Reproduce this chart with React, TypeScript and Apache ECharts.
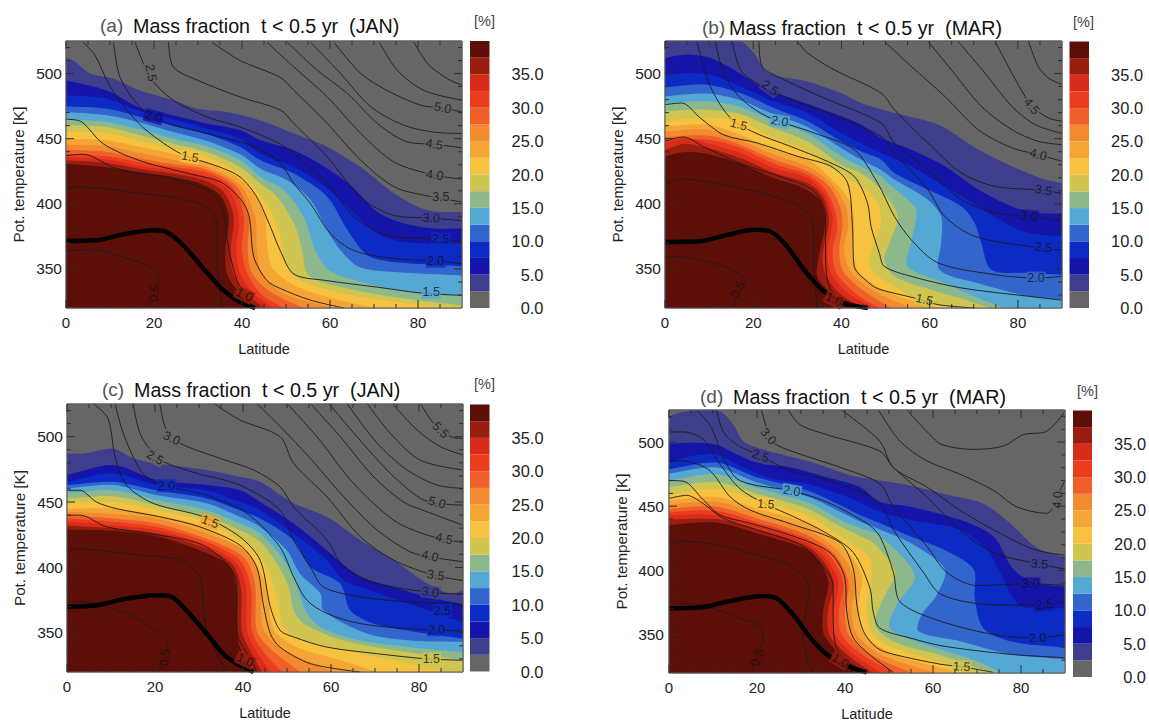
import React, { useEffect, useRef } from "react";
import * as echarts from "echarts";

// ---- colour scale ----
const cbLevels = [0, 2.5, 5, 7.5, 10, 12.5, 15, 17.5, 20, 22.5, 25, 27.5, 30, 32.5, 35, 37.5];
const cbColors = ["#666666", "#3e3e8c", "#1414a8", "#0c2ac4", "#3366cc", "#55a8d4", "#8cb88c", "#cfc550", "#f7c23f", "#f5a535", "#f28a30", "#ee5f2a", "#ec3c20", "#d92b1a", "#9a1e10", "#5c0e08"];
const cbTicks = [0, 5, 10, 15, 20, 25, 30, 35];
const latTicks = [0, 20, 40, 60, 80];
const latMinor = [5, 10, 15, 25, 30, 35, 45, 50, 55, 65, 70, 75, 85];
const thetaTicks = [350, 400, 450, 500];
const thetaMinor = [330, 340, 360, 370, 380, 390, 410, 420, 430, 440, 460, 470, 480, 490, 510, 520];

// ---- panel (a): boundaries of filled levels, [lat, theta, ...] ----
const a25 = [0,512, 1.7,510, 5.5,500, 10.8,496, 16.8,487, 24.4,479.5, 29.8,473, 36.6,470.5, 44.2,464, 51.8,454, 59.4,443.7, 67,428, 74.6,408, 82.2,395, 90,393.5];
const a50 = [0,494.9, 9.3,487, 16.9,473.6, 24.4,468, 32,461.6, 39.6,456.5, 44.2,448.8, 51.8,441.1, 59.4,427, 64.7,414.2, 70.8,393.7, 76.9,384.8, 83.7,381, 90,381];
const a75 = [0,483.3, 9.3,480.8, 16.9,471, 24.4,464.9, 32,457.7, 39.6,450, 44.2,438.5, 51.8,428.3, 59.4,411.7, 65.5,392.5, 70.8,377, 76.8,370.7, 90,369.4];
const a100 = [0,474.9, 9.3,473, 16.9,466.7, 24.4,459.8, 32,453.4, 39.6,443.7, 44.2,433.4, 51.8,423.2, 59.4,405.3, 64,379.7, 68.5,360.5, 74.6,355.3, 90,352];
const a125 = [0,470.5, 9.3,468, 16.9,462.3, 24.4,455.2, 32,448.3, 39.6,438, 44.2,427, 50.3,418, 55.6,402.7, 59.4,379.7, 62.4,364.3, 66.6,351.5, 74.6,347.6, 90,345];
const a150 = [0,465.2, 9.3,462.9, 16.9,457, 24.4,450, 32,444.2, 39.6,433.4, 44.2,420.6, 49.5,410.4, 54,389.9, 56.7,364.3, 59.8,348.9, 67,340, 78.4,332.3, 90,329.7];
const a175 = [0,460.3, 9.3,459, 16.9,452.6, 24.4,446.2, 32,439.8, 39.6,428.3, 44.2,415.5, 48,405.3, 51.8,384.8, 53.7,364.3, 54.8,346.4, 59.4,338.7, 74.6,328.4, 90,322];
const a200 = [0,455.2, 9.3,454.4, 16.9,448.3, 24.4,442.4, 32,436, 39.6,423.2, 44.2,406.5, 46.5,395, 48.8,374.5, 49.9,354, 53.3,341.2, 63.2,331, 78.4,323.3, 90,319.5];
const a225 = [0,450, 9.3,448.8, 16.9,443.7, 24.4,438.5, 32,431.4, 40.4,416.8, 45,392.5, 45.7,369.4, 46.8,351.5, 51.8,337.4, 59.4,328.4, 70,320];
const a250 = [0,445.5, 9.3,444.2, 16.9,439, 24.4,433.9, 32,428.3, 39.6,414.2, 43,390, 43.4,364.3, 44.6,346.4, 49.5,331, 60.9,320];
const a275 = [0,441.6, 9.3,439.8, 16.9,434.7, 24.4,430.3, 32,426.2, 38.9,413, 41.5,390, 41.3,364.3, 42.3,346.4, 46.5,332.3, 54,320];
const a300 = [0,438.5, 9.3,436.5, 16.9,432, 24.4,428.3, 32,424, 38.1,411.7, 40.4,390, 40,364.3, 41.2,346.4, 44.2,331, 49.5,320];
const a325 = [0,436, 9.3,434, 16.9,428.8, 24.4,425.7, 32,420.6, 37,410.4, 39.3,390, 38.7,364.3, 39.6,346.4, 42.7,331, 47.2,320];
const a350 = [0,433.4, 9.3,431.4, 16.9,426.8, 24.4,423.2, 31.3,418, 35.8,409, 38.1,390, 37.4,364.3, 38,346.4, 41.2,331, 45,320];
const a375 = [0,431, 9.3,428, 16.9,424, 24.4,420.6, 30.5,415.5, 35,406.5, 37,390, 36.2,364, 36.6,346, 39.6,331, 43,320];
const aBands = [a25, a50, a75, a100, a125, a150, a175, a200, a225, a250, a275, a300, a325, a350, a375];

// panel (a): contour lines
const aC05 = [0,364, 5.5,365, 13,359, 18.4,352.5, 21,343.5, 20.6,333, 18,320];
const aC075 = [0,410, 2,413, 17,408, 30.5,400, 34.3,385, 34.3,357, 35,331, 35.7,320];
const aC10 = [0,437, 3.9,438, 11.5,427, 24.4,419, 32.8,409, 35.7,395, 36.8,369, 38.9,341, 42.7,320];
const aC125 = [0,465, 3.5,463, 8.5,446, 16.9,433, 28.2,423, 35.8,415.5, 41.2,395, 42.7,359, 45.7,341, 48.7,335, 55.6,326, 63.2,320];
const aC15 = [3.9,524, 6.6,514, 10,490, 14.6,469, 18.4,456, 26,438.6, 34.3,429, 39.6,420.6, 43.4,405, 46.5,382, 48.7,364, 51.8,346, 59.4,341, 70.8,336, 80.6,331.5, 90,329.7];
const aC20 = [10.8,524, 12.3,497, 16.9,474, 22.2,463, 32,454, 42.7,444, 48.7,431, 51.8,415.5, 55.6,400, 60.1,377, 65.5,364, 74.6,358, 84,356, 90,354];
const aC25 = [15.7,524, 17.6,507.7, 19.5,495, 24.4,479.5, 32,466.7, 39.6,459, 48.7,446, 51.8,438.5, 59.4,415.5, 65.5,390, 73,376, 83.7,373, 90,370.7];
const aC30 = [23.3,524, 24.4,505, 29.8,495, 39.6,482, 48.7,472, 51.8,461.6, 59.4,436, 67,405, 74.6,391, 83,389, 90,387];
const aC35 = [33.2,524, 39.6,510, 48.7,497, 51.8,487, 59.4,461.6, 67,433.4, 74.6,413, 82.2,406, 90,401.4];
const aC40 = [45.7,524, 51.8,505, 59.4,482, 67,454, 74.6,432, 83.7,422, 90,419];
const aC45 = [50.3,524, 57.1,502.5, 64,484.6, 70.8,461.6, 77.6,447.5, 83.7,445.7, 90,443];
const aC47 = [55.6,524, 62.4,500, 69.3,474.4, 76.8,460.3, 83.7,455, 90,454];
const aC50 = [60.9,524, 67,500, 73,487, 80.6,475.7, 85.6,473.6, 90,470.5];
const aC52 = [71.2,524, 75.3,502.5, 81.4,487, 90,479.5];
const aC55 = [79.1,524, 82.2,507.6, 86.7,496, 90,491];
const aContours = [aC05, aC075, aC10, aC125, aC15, aC20, aC25, aC30, aC35, aC40, aC45, aC47, aC50, aC52, aC55];
const aThick = [0,371.5, 7,372, 13,376.6, 20,379.6, 23,378, 26.7,368, 31.3,350, 35.8,333.5, 39.6,324.6, 43,320];
// [lat, theta, text, rotation, colour band underneath]
const aLabels = [[19.3,500.5,"2.5",-80,0],[19.9,467,"2.0",-15,2],[28.2,436,"1.5",-10,8],[40.5,330,"1.0",-25,14],[20,331.5,"0.5",85,15],[85.6,473.6,"5.0",-10,0],[83.7,445.7,"4.5",-10,0],[83.8,422,"4.0",-8,0],[85.2,405,"3.5",0,0],[83,389,"3.0",-3,1],[85.2,373,"2.5",-3,3],[84,356,"2.0",0,3],[83,332,"1.5",0,5]];

// ---- panel (b) ----
const b25 = [17.1,526, 20.1,516, 23.5,500.5, 32.3,494, 39.9,485, 44.4,477.4, 52,469.8, 61.9,460.8, 71,441.6, 78.6,428.8, 86.2,418.6, 90,416];
const b50 = [0,512, 4.9,514.6, 10.3,512, 15.6,503, 22.4,489, 28.5,481.3, 36,472.3, 43.7,462, 49,450.6, 55.8,441.6, 63.4,428.8, 71,411, 78.6,398, 83.9,393, 90,392.5];
const b75 = [0,499, 4.9,500.5, 10.3,499, 17.1,490, 24.7,478.7, 32.3,469.8, 39.9,454.4, 44.4,446.7, 49,439, 55.8,428.8, 63.4,413.4, 71,398, 78.6,382.7, 82.4,377.6, 90,375];
const b100 = [0,489.7, 9.5,491.5, 17.1,485, 24.7,473.6, 32.3,463.4, 39.9,448, 44.4,440.3, 49,433.9, 52,423.7, 59.6,410.9, 67.2,398, 70.2,385.3, 71.7,370, 74,349.4, 82.4,346.9, 90,345.6];
const b125 = [0,482.6, 9.5,484.6, 17.1,479.5, 24.7,468.5, 32.3,459, 39.9,442.9, 44.4,434, 49,426, 52,418.6, 59.6,403.2, 62.6,390.4, 62.6,370, 62.2,349.4, 71,339, 82.4,329, 90,326.4];
const b150 = [0,477.4, 9.5,478.7, 17.1,474.4, 24.7,463.4, 32.3,453.9, 39.9,436.5, 44.4,428.8, 49,421, 50.5,416, 56.6,398, 57,390.4, 55.8,370, 55,352, 63.4,339, 71,327.7, 77,320];
const b175 = [0,471, 9.5,472.3, 17.1,469, 24.7,458, 32.3,448, 39.9,430, 44.4,423.7, 49,410.9, 52.8,390.4, 51.2,372.5, 49.7,357, 52,344.3, 60.3,334, 68,326.4, 73.6,320];
const b200 = [0,463.4, 9.5,466, 17.1,463.4, 24.7,450.6, 32.3,440.3, 39.9,422.4, 44.4,413.4, 48.2,400.6, 49,385.3, 47.4,370, 46.3,354.6, 47.4,346.9, 52,336.6, 57.3,326.4, 65.3,320];
const b225 = [0,459.5, 9.5,460.8, 17.1,453, 24.7,441.6, 32.3,434, 38.3,417.3, 42.1,400.6, 42.9,382.7, 42.5,364.8, 43.7,349.4, 47.5,337.9, 52,330, 61,321, 62.6,320];
const b250 = [0,455.7, 9.5,457, 17.1,448.8, 24.7,437.8, 32.3,428.8, 37.6,416, 41,398, 41.5,382.7, 40.6,364.8, 41.8,349.4, 45.2,337.9, 49.7,329, 55.8,320];
const b275 = [0,451.3, 9.5,452.4, 17.1,445.4, 24.7,434, 32.3,425, 37.2,413.4, 39.9,395.5, 40.2,382.7, 39.5,364.8, 40.2,349.4, 43.7,336.6, 47.5,327.7, 51.3,320];
const b300 = [0,449.3, 9.5,449.3, 17.1,442.9, 24.7,430.8, 32.3,422.4, 36.4,410.9, 38.7,393, 39,380, 38,364.8, 38.7,348, 41.8,335.4, 45.2,326.4, 49,320];
const b325 = [0,446, 4.2,450.6, 9.5,446.7, 17.1,439, 24.7,427.5, 32.3,419.8, 36,408.3, 38,390.4, 37.6,377.6, 36.8,362.2, 37.6,346.9, 40.6,334, 43.7,326.4, 47.5,320];
const b350 = [0,441.6, 4.2,446, 9.5,442.9, 17.1,435.2, 24.7,423.7, 32.3,416, 35.7,405.8, 37.2,387.8, 36.4,372.5, 35.7,359.7, 36.4,345.6, 39.1,332.8, 42.1,325, 46,320];
const b375 = [0,436.5, 4.2,439.6, 9.5,438.5, 17.1,430.8, 24.7,419.8, 31.5,412, 35.3,402, 36.3,385.3, 34.9,359.7, 34.5,344.3, 37.6,331.5, 42.9,320.5];
const bBands = [b25, b50, b75, b100, b125, b150, b175, b200, b225, b250, b275, b300, b325, b350, b375];

const bC05 = [0,359.7, 5.7,358.4, 12.5,353, 17.1,345.6, 18.2,340.5, 16.7,334, 15.6,320];
const bC075 = [0,414.7, 4.2,419, 13.3,414.7, 27,403.2, 32.3,393, 33.8,375, 33.8,354.6, 34.5,320];
const bC10 = [0,448, 4.2,451.3, 8.7,444, 17.1,431, 27,419.8, 33.8,409.6, 36.4,390.4, 36.4,364.8, 37.2,336.6, 41.4,320];
const bC125 = [0,476.2, 3.8,477.4, 8,465.9, 13.3,453, 20.9,446.7, 30,436.5, 37.6,428.8, 41.4,416, 42.5,382.7, 42.9,352, 46.7,337.9, 49,334, 56.5,327.7, 61.9,322.6, 70.2,320];
const bC15 = [7.2,524.8, 10.3,490, 14.8,466, 20.1,455, 28.5,444, 36.8,432.6, 42.9,421, 45.9,400.6, 46.7,382.7, 48.6,362, 49.7,352, 55.8,344.3, 67.2,335.4, 82.4,329, 90,326];
const bC20 = [11.4,524.8, 13.3,500.5, 17.1,481.3, 23.2,467, 33.8,454.4, 42.9,441.6, 48.2,416, 52,390.4, 55.8,372.5, 61.9,354.6, 74.8,345.6, 84.3,343, 90,344.3];
const bC25 = [15.2,524.8, 17.1,503, 20.1,494, 28.5,480, 36.8,469.8, 49,451.8, 52,439, 59.6,410.9, 63.4,390.4, 70.2,375, 83.9,366.6, 90,364.3];
const bC30 = [21.3,524.8, 22,505.6, 26.2,496.6, 36,481.3, 49,462, 52,446.7, 59.6,426, 67.2,403.2, 74.8,393, 82.6,390.4, 90,386.6];
const bC35 = [30,524.8, 32.3,515.8, 38.3,503, 49,485, 52,472.3, 59.6,446.7, 67.2,423.7, 74.8,413.4, 85.8,410.4, 90,407.8];
const bC40 = [49.7,524.8, 55.8,505.6, 63.4,482.6, 71,457, 78.6,443, 84.6,437.8, 90,432.6];
const bC42 = [59.6,524.8, 64.9,503, 71.7,474.9, 78.6,457, 84.6,448, 90,445.4];
const bC44 = [66.4,524.8, 72.5,500.5, 78.6,474.9, 83.9,460.8, 90,454];
const bC45 = [74.8,524.8, 78.6,500.5, 81.6,482.6, 83.1,474.9, 86.9,465.9, 90,463.4];
const bC48 = [82.4,524.8, 84.6,505.6, 86.9,496.6, 90,491.5];
const bContours = [bC05, bC075, bC10, bC125, bC15, bC20, bC25, bC30, bC35, bC40, bC42, bC44, bC45, bC48];
const bThick = [0,370.7, 7.2,371, 14,376, 20.1,380, 23.2,379.6, 27,370, 31.5,349.4, 36,332.8, 40.6,323.8, 46,320];
const bLabels = [[23.8,489,"2.5",-35,1],[26,463.4,"2.0",-10,5],[16.7,460.8,"1.5",-15,8],[38.3,326.4,"1.0",-25,14],[16.5,334,"0.5",65,15],[83.1,474.9,"4.5",-50,0],[84.6,437.8,"4.0",-15,0],[85.8,410.4,"3.5",-10,1],[82.6,390.4,"3.0",-5,2],[85.8,366.6,"2.5",-5,3],[84.1,343,"2.0",0,4],[58.8,326.4,"1.5",-12,7]];

// ---- panel (c) ----
const c25 = [0,487.2, 3.6,487, 10.5,491, 14.3,484.7, 19.6,479.6, 24.1,478, 31.7,474.5, 39.3,469.3, 43.9,465.5, 51.5,449, 59.1,438.7, 66.7,420.8, 74.3,405.5, 81.9,387.7, 87.2,380, 90,382.5];
const c50 = [0,470.6, 10.5,478.3, 20.3,466.8, 31.7,463, 39.3,459, 43.9,450, 51.5,433.6, 59.1,413, 66.7,392.8, 74.3,385, 81.9,377.4, 90,372];
const c75 = [0,465.5, 10.5,472, 20.3,463, 31.7,459, 39.3,450, 43.9,443.8, 51.5,426, 59.1,405.5, 62.9,390, 66.7,385, 78,372, 90,358];
const c100 = [0,463, 10.5,465.5, 20.3,459, 31.7,452.8, 39.3,443.8, 43.9,437.4, 51.5,420.8, 55.3,400.4, 62.1,387.7, 64.4,367, 69.7,357, 81.9,349.4, 90,345.5];
const c125 = [0,460.4, 10.5,463, 20.3,455.3, 31.7,449, 39.3,438.7, 43.9,431, 50,413, 53,395, 57.6,380, 58.3,367, 68.2,349.4, 78,344, 90,343];
const c150 = [0,457, 10.5,459, 20.3,451.5, 31.7,443.8, 39.3,433.6, 43.9,426, 48.5,409.4, 51.5,392.8, 54.2,367, 57.6,354.5, 66.7,344, 78,339, 90,335];
const c175 = [0,452.8, 10.5,454.5, 20.3,447.6, 31.7,438.7, 39.3,428.5, 43.9,419.6, 47.7,403, 50.4,385, 51.5,367, 53.8,357, 62.9,344, 74.3,336.6, 90,329];
const c200 = [0,449, 10.5,450, 20.3,443.8, 31.7,434.9, 39.3,420.8, 43.9,408, 46.2,392.8, 48.1,372, 49.2,354.5, 53.8,344, 66.7,334, 78,326.4, 86.4,320];
const c225 = [0,445, 10.5,445, 20.3,440, 31.7,429.8, 41.6,408, 45.4,385, 46.2,362, 47.7,349.4, 53,337.9, 62.1,329, 70.5,320];
const c250 = [0,442.5, 10.5,440.8, 20.3,437.4, 31.7,426, 40.9,412, 43.9,390, 44.5,354.5, 48.4,339, 60.6,320];
const c275 = [0,440, 10.5,437.4, 20.3,433.6, 31.7,422, 40.1,408, 42.7,387.7, 43.1,352, 46.2,337.9, 53,320];
const c300 = [0,437.4, 10.5,434.9, 20.3,431, 31.7,419.6, 39.3,405.5, 41.8,385, 42,352, 44.4,336.6, 48.8,320];
const c325 = [0,434.9, 10.5,432.3, 20.3,428.5, 31.7,417, 38.6,403, 40.7,385, 40.9,352, 42.9,336.6, 46.2,320];
const c350 = [0,432.3, 10.5,429.8, 20.3,426, 31.7,414.5, 37.8,401.7, 39.6,382.5, 39.7,352, 41.6,336.6, 44.3,320];
const c375 = [0,429, 10.5,428, 20.3,424, 31.7,411, 37.1,400.4, 38.6,380, 38.6,357, 39.3,339, 42.4,320];
const cBands = [c25, c50, c75, c100, c125, c150, c175, c200, c225, c250, c275, c300, c325, c350, c375];

const cC05 = [0,373.6, 3.6,373.6, 9,369.8, 16.5,359.6, 23,340.4, 22,331.5, 21.1,320];
const cC075 = [0,413, 2.9,414, 16.5,409.4, 25.7,405.5, 30.2,392.8, 31,372, 31.7,352, 36.3,320];
const cC10 = [0,440, 2.9,440, 9,431, 18.8,426, 30.2,418, 36.3,403, 38.6,387.7, 38.6,352, 42.4,326, 43.1,320];
const cC125 = [0,459, 2.9,459, 6.7,450, 11.2,445, 21.1,438.7, 30.2,431, 39.3,417, 43.1,400.4, 44.6,372, 46.2,349.4, 48.4,339, 55.3,326.4, 66.7,320];
const cC15 = [5.9,525.5, 9.3,514, 11,483.5, 13.5,463, 19.6,449, 31,438.7, 39.3,423.4, 43.9,405.5, 46.2,370, 48.4,352, 51.5,346.8, 59.1,339, 70.5,334, 81.9,330, 90,329];
const cC20 = [10.9,525.5, 12.8,502.5, 16.6,474.5, 19.6,465.5, 22.6,462, 31.7,455.3, 40.9,441.3, 48.4,415.7, 51.5,392.8, 54.5,375, 59.1,364.7, 66.7,357, 78,353, 90,351.4];
const cC25 = [15,525.5, 16.6,502.5, 19.6,487, 21.9,480.8, 29.5,472, 39.3,463, 48.4,443.8, 51.5,420.8, 55.3,400.4, 58.3,385, 66.7,377.4, 78,373.5, 85.3,372, 90,370.8];
const cC30 = [21.1,525.5, 22.6,505, 25.7,495, 34.8,483.4, 42.4,474.5, 48.4,461.7, 51.5,446.4, 59.1,420.8, 62.9,400.4, 70.5,387.7, 82.6,381, 90,379.5];
const cC35 = [33.3,525.5, 39.3,512.8, 48.4,500, 51.5,479.6, 59.1,454, 66.7,423.4, 74.3,405.5, 83.4,394, 90,390];
const cC40 = [43.1,525.5, 48.5,507.6, 55.3,483.4, 62.9,454, 70.5,428.5, 78,411.9, 82.6,408, 90,404.3];
const cC45 = [50,525.5, 56.8,500, 65.2,464, 74.3,436, 81.9,424.7, 90,419];
const cC47 = [55.3,525.5, 62.1,500, 69.7,469.3, 76.5,450, 81.9,442.5, 90,432.3];
const cC50 = [59.5,525.5, 65.9,500, 73.5,471.9, 80.3,452.8, 84.1,449, 90,447.6];
const cC51 = [63.6,525.5, 70.5,495, 77.3,474.5, 84.1,463, 90,460.4];
const cC52 = [68.2,525.5, 73.5,502.5, 80.3,482, 90,474.5];
const cC53 = [73.9,525.5, 79.6,505, 84.9,492.3, 90,486];
const cC55 = [80.3,525.5, 83.4,510, 87.2,500, 90,498.7];
const cContours = [cC05, cC075, cC10, cC125, cC15, cC20, cC25, cC30, cC35, cC40, cC45, cC47, cC50, cC51, cC52, cC53, cC55];
const cThick = [0,369.8, 6.7,371, 12.8,375.7, 20.3,378.7, 23.4,378, 27.2,367, 31.7,349.4, 36.3,331.5, 42.4,320];
const cLabels = [[23.8,498.7,"3.0",-25,0],[20,484,"2.5",-30,0],[22.6,462.5,"2.0",0,3],[32.5,434.9,"1.5",-20,9],[40.5,329,"1.0",-25,14],[22.2,331,"0.5",85,15],[84.9,505,"5.5",-45,0],[84.1,449.5,"5.0",-15,0],[85.7,422,"4.5",-12,0],[82.5,408.6,"4.0",-12,0],[83.8,394,"3.5",-8,0],[82.6,381,"3.0",-8,1],[85.3,367,"2.5",0,3],[84,352.4,"2.0",0,3],[82.8,330,"1.5",0,7]];

// ---- panel (d) ----
const d25 = [0,519.9, 2.5,523, 6.3,524.8, 11.6,524, 14.6,513.5, 16.9,500.7, 21.4,494.3, 31.3,485.4, 40.4,475, 43.4,472.6, 54.8,466.2, 63.9,458.5, 71.4,452, 77.5,436.8, 83.6,417.6, 90,410];
const d50 = [0,498.7, 4.8,499.5, 10.8,498, 15.4,490.5, 19.9,484, 27.5,480.3, 35.8,472.6, 43.4,465, 47.9,453.4, 54.8,449.6, 66.1,439.4, 73.7,426.6, 78.2,401, 82.8,390.8, 90,387];
const d75 = [0,484, 4.8,489, 10.8,490.4, 16.1,481.5, 23.7,471.3, 31.3,467.5, 40.4,457.3, 47.9,445.8, 54.8,439.4, 66.1,431.7, 72.2,416.4, 75.2,398.5, 79.8,372.9, 90,370.4];
const d100 = [0,479, 10.8,484, 19.9,472.6, 31.3,462.4, 38.9,450.9, 43.4,443.2, 48,436.8, 54.8,426.6, 62.3,416.4, 69.2,401, 69.5,378, 71.4,355, 77.5,344.8, 90,339.7];
const d125 = [0,475.6, 10.8,480.2, 19.9,468.7, 31.3,457.7, 38.9,445.7, 43.4,438, 48,431.7, 54.8,421.5, 62.7,401, 60.8,380.6, 57.4,365.2, 56.7,352.5, 66.1,344.8, 77.5,334.6, 90,330.7];
const d150 = [0,470, 10.8,475, 19.9,464.4, 31.3,453.4, 38.9,439.4, 43.4,433, 48,426.6, 55.9,396, 51.7,372.9, 50.2,355, 57,343.5, 69.9,329.5, 75.2,320.5];
const d175 = [0,464.9, 10.8,468.7, 19.9,459.8, 31.3,448.3, 38.9,434.3, 43.4,426.6, 46.4,421.5, 51.4,398.5, 48.7,378, 46.8,357.6, 51,344.8, 62.3,333.3, 69.9,324.3, 73.7,320.5];
const d200 = [0,458.5, 10.8,463.6, 19.9,454.7, 31.3,443, 38.9,426.6, 43.4,416.4, 45.7,408.7, 46,393.4, 44.9,367.8, 46.4,350, 51,339.7, 64.6,325.6, 69.2,320.5];
const d225 = [0,454.7, 10.8,457.2, 19.9,448.3, 31.3,436.8, 39.6,417.6, 43.8,396, 43,370.4, 44.3,351, 50.2,335.8, 58.6,326.9, 66,320.5];
const d250 = [0,451.6, 10.8,453.4, 19.9,444.5, 31.3,431.7, 38.9,413.8, 42.3,390.8, 41.5,367.8, 42.7,350, 48,334.6, 60,320.5];
const d275 = [0,448.3, 10.8,449.6, 19.9,440.6, 31.3,427.8, 37.7,412.5, 40.8,390.8, 40,367.8, 40.8,350, 45.7,334.6, 54.8,320.5];
const d300 = [0,445.7, 10.8,446.5, 19.9,437.6, 31.3,424.8, 36.6,411.2, 39.6,390.8, 38.6,367.8, 39.2,350, 43.8,334.6, 51,320.5];
const d325 = [0,443, 10.8,443, 19.9,434.8, 31.3,421.5, 35.8,408.7, 38.5,390.8, 37.4,367.8, 37.7,350, 41.9,334.6, 48,320.5];
const d350 = [0,439.4, 10.8,440, 19.9,431.7, 31.3,419, 35,407.4, 37.4,390.8, 36.1,367.8, 36.4,350, 40.4,334.6, 46,320.5];
const d375 = [0,435.5, 10.8,437.3, 19.9,429, 31.3,416.4, 34.3,406, 36.2,390.8, 35,367.8, 35.2,350, 38.9,334.6, 44.2,320.5];
const dBands = [d25, d50, d75, d100, d125, d150, d175, d200, d225, d250, d275, d300, d325, d350, d375];

const dC05 = [0,370.4, 3.3,374.2, 8.6,371.6, 16.1,362.7, 21.1,355, 21.4,344.8, 19.9,334.6, 18.8,320.5];
const dC075 = [0,420.2, 3.3,422.8, 12.3,419, 19.9,412.1, 27.5,403.6, 32,385.7, 30.5,352.5, 31.3,332, 32.8,320.5];
const dC10 = [0,456, 4,458.5, 7.8,452, 12.3,440.6, 19.9,431.7, 29.8,420.2, 34.3,406, 37.3,388, 37.3,367.8, 38.1,339.7, 41.9,324.3, 43.4,320.5];
const dC125 = [0,470, 3.3,469.5, 7.8,455, 11.6,443.2, 18.4,436.8, 28.3,426.6, 36.6,413.8, 40,393.4, 40.4,367.8, 41.9,347.3, 46.4,332, 51,320.5];
const dC14 = [0,485.4, 4,484.9, 9.3,477.7, 13.9,457.3, 18.4,447, 28.3,435.6, 38.9,421.5, 41.9,401, 42.7,372.9, 44.2,352.5, 47.2,339.7, 51,334.6, 61.6,326.9, 66.5,324.9, 73.7,320.5];
const dC15 = [0,507.9, 3.3,507.9, 7.8,502, 11.6,482.8, 16.1,463.7, 22,451.6, 28.3,441.9, 35.8,429, 41.9,413.8, 45.7,385.7, 46.4,367.8, 47.9,355, 54.8,347.3, 62.3,341, 77.5,334.6, 90,332];
const dC20 = [6.3,525, 9.7,511, 12.3,488.1, 16.1,470, 27.9,461.9, 35.8,453.4, 44.9,436.8, 47.9,426.6, 51,398.5, 52.5,375.5, 60.8,361.4, 73.7,350, 83.6,347.3, 90,349.9];
const dC25 = [10.8,525, 12.3,508.4, 15.4,498, 20.8,489.2, 27.5,477.7, 38.9,467.5, 47.9,452, 51,431.7, 57.8,398.5, 61.6,381.8, 69.9,374.2, 79.8,372.9, 85.3,373.4, 90,375.5];
const dC30 = [21,525, 22.2,510.9, 23.7,499.5, 29.8,490.6, 38.9,480.3, 47.9,467.5, 51,449.6, 58.6,418.9, 63.1,398.5, 69.9,388.2, 82.2,389.5, 90,388.2];
const dC35 = [27.1,525, 29.8,513.5, 35.8,505.8, 47.9,493, 51,480.2, 58.6,457.3, 66.1,431.7, 73.7,413.8, 84.2,404.9, 90,401];
const dC37 = [39.2,525, 47.9,500.7, 51,480, 58.6,465, 66.1,447, 73.7,431.7, 82.8,416.4, 90,411.8];
const dC40 = [47.6,525, 52.5,500.7, 58.6,485.4, 66.1,475, 73.7,462.4, 79,449.6, 85.8,444.5, 87.7,450.9, 88.9,462.4, 90,470];
const dC42 = [54,525, 59.3,505.8, 62,498, 69.2,494.3, 76,496.9, 80.5,505.8, 85.8,508.4, 90,523.7];
const dContours = [dC05, dC075, dC10, dC125, dC14, dC15, dC20, dC25, dC30, dC35, dC37, dC40, dC42];
const dThick = [0,370.4, 7,371, 13.9,376.2, 21.4,380, 24.5,378, 28.3,365.2, 32.8,344.8, 37.3,330.7, 41.9,323.8, 44.9,320.5];
const dLabels = [[22.6,504.5,"3.0",-50,0],[20.8,489.2,"2.5",-20,1],[27.9,461.9,"2.0",-10,5],[22,451.6,"1.5",-5,8],[38.9,329.5,"1.0",-30,14],[20,332,"0.5",70,15],[88.3,455,"4.0",85,0],[84.2,404.9,"3.5",-3,1],[82.2,389.5,"3.0",0,2],[85.3,373.4,"2.5",5,2],[83.8,347.3,"2.0",3,3],[66.5,324.9,"1.5",-3,7]];

// ---- layout ----
const panelText = [
  { tag: "(a)", title: "Mass fraction  t < 0.5 yr  (JAN)", tagX: 100, titleX: 133, y: 16, unitX: 474, unitY: 13, labelMargin: 4 },
  { tag: "(b)", title: "Mass fraction  t < 0.5 yr  (MAR)", tagX: 702, titleX: 729, y: 18, unitX: 1073, unitY: 14, labelMargin: 4 },
  { tag: "(c)", title: "Mass fraction  t < 0.5 yr  (JAN)", tagX: 102, titleX: 134, y: 380, unitX: 474, unitY: 376, labelMargin: 4 },
  { tag: "(d)", title: "Mass fraction  t < 0.5 yr  (MAR)", tagX: 700, titleX: 733, y: 387, unitX: 1077, unitY: 383, labelMargin: 5 },
];
const layouts = [
  { l: 66, t: 41, w: 396, h: 267, cl: 470, cw: 19.5, ct: 41, ch: 267 },
  { l: 665, t: 41, w: 397, h: 267, cl: 1069.5, cw: 19.5, ct: 41.5, ch: 266.5 },
  { l: 67, t: 404, w: 396, h: 268, cl: 470, cw: 19.5, ct: 404.5, ch: 267 },
  { l: 669, t: 410, w: 396, h: 267, cl: 1073, cw: 19.5, ct: 410.5, ch: 266.5 },
];
const panelBands = [aBands, bBands, cBands, dBands];
const panelContours = [aContours, bContours, cContours, dContours];
const panelThick = [aThick, bThick, cThick, dThick];
const panelLabels = [aLabels, bLabels, cLabels, dLabels];

const MAJOR_LEN = 8;
const MINOR_LEN = 4;
const FONT = '"Liberation Sans", Arial, sans-serif';

const toPairs = (flat: number[]) => {
  const out: number[][] = [];
  for (let i = 0; i < flat.length; i += 2) out.push([flat[i], flat[i + 1]]);
  return out;
};

function buildOption() {
  const grid: any[] = [];
  const xAxis: any[] = [];
  const yAxis: any[] = [];
  const series: any[] = [];
  const title: any[] = [];

  layouts.forEach((g, p) => {
    const t = panelText[p];
    const gi = grid.length;
    grid.push({ left: g.l, top: g.t, width: g.w, height: g.h, show: true, backgroundColor: "#666666", borderColor: "#666666", borderWidth: 1 });
    const xi = xAxis.length;
    const yi = yAxis.length;
    xAxis.push({
      type: "value", gridIndex: gi, min: 0, max: 90, position: "bottom", splitLine: { show: false },
      axisLine: { show: false, onZero: false }, axisTick: { show: false },
      name: "Latitude", nameLocation: "middle", nameGap: 33,
      nameTextStyle: { fontFamily: FONT, fontSize: 14.5, color: "#222" },
      axisLabel: { show: true, customValues: latTicks, margin: 7, fontFamily: FONT, fontSize: 15, color: "#222", formatter: (v: number) => String(v) },
    });
    yAxis.push({
      type: "value", gridIndex: gi, min: 320, max: 525, position: "left", splitLine: { show: false },
      axisLine: { show: false, onZero: false }, axisTick: { show: false },
      name: "Pot. temperature [K]", nameLocation: "middle", nameGap: 40,
      nameTextStyle: { fontFamily: FONT, fontSize: 15.2, color: "#222" },
      axisLabel: { show: true, customValues: thetaTicks, margin: t.labelMargin, fontFamily: FONT, fontSize: 15.5, color: "#222", formatter: (v: number) => String(v) },
    });

    const bands = panelBands[p];
    series.push({
      type: "custom", xAxisIndex: xi, yAxisIndex: yi, clip: true, silent: true, z: 2,
      data: bands.map((_: any, i: number) => [i]),
      renderItem: (params: any, api: any) => {
        const idx = params.dataIndex;
        const pts = toPairs(bands[idx]);
        const n = pts.length;
        const first = [2 * pts[0][0] - pts[1][0], 2 * pts[0][1] - pts[1][1]];
        const last = [2 * pts[n - 1][0] - pts[n - 2][0], 2 * pts[n - 1][1] - pts[n - 2][1]];
        const ring = [[-40, 280], [-40, first[1]], first, ...pts, last, [last[0] + 5, 280]];
        return {
          type: "polygon",
          shape: { points: ring.map((q) => api.coord(q)), smooth: 0.3 },
          style: { fill: cbColors[idx + 1], stroke: null },
        };
      },
    });
    panelContours[p].forEach((c: number[]) => {
      series.push({
        type: "line", xAxisIndex: xi, yAxisIndex: yi, data: toPairs(c), showSymbol: false, symbol: "none", smooth: 0.3,
        silent: true, z: 4, lineStyle: { color: "#1c1c1c", width: 1, opacity: 0.9 }, clip: true,
      });
    });
    series.push({
      type: "line", xAxisIndex: xi, yAxisIndex: yi, data: toPairs(panelThick[p]), showSymbol: false, symbol: "none", smooth: 0.3,
      silent: true, z: 5, lineStyle: { color: "#000000", width: 4.5 }, clip: true,
    });
    series.push({
      type: "scatter", xAxisIndex: xi, yAxisIndex: yi, silent: true, z: 6, symbolSize: 1, itemStyle: { color: "rgba(0,0,0,0)" },
      data: panelLabels[p].map((r: any[]) => ({
        value: [r[0], r[1]],
        label: {
          show: true, position: "inside", formatter: r[2], rotate: r[3], fontFamily: FONT, fontSize: 12.5, color: "#111",
          backgroundColor: cbColors[r[4]], padding: [0, 1],
        },
      })),
    });

    // ticks on all four sides and the frame, placed through the axes
    const tickItems: any[] = [["frame", 0, 0]];
    latTicks.forEach((v) => tickItems.push(["x", v, MAJOR_LEN]));
    latMinor.forEach((v) => tickItems.push(["x", v, MINOR_LEN]));
    thetaTicks.forEach((v) => tickItems.push(["y", v, MAJOR_LEN]));
    thetaMinor.forEach((v) => tickItems.push(["y", v, MINOR_LEN]));
    series.push({
      type: "custom", xAxisIndex: xi, yAxisIndex: yi, clip: false, silent: true, z: 8,
      data: tickItems.map((_: any, i: number) => [i]),
      renderItem: (params: any, api: any) => {
        const [kind, v, len] = tickItems[params.dataIndex];
        const lineStyle = { stroke: "#2e2e2e", lineWidth: 1, fill: "none" };
        if (kind === "frame") {
          const a = api.coord([0, 320]);
          const b = api.coord([90, 525]);
          return { type: "rect", shape: { x: a[0], y: b[1], width: b[0] - a[0], height: a[1] - b[1] }, style: { fill: "none", stroke: "#5a5a5a", lineWidth: 1 } };
        }
        if (kind === "x") {
          const a = api.coord([v, 320]);
          const b = api.coord([v, 525]);
          return { type: "group", children: [
            { type: "line", shape: { x1: a[0], y1: a[1], x2: a[0], y2: a[1] - len }, style: lineStyle },
            { type: "line", shape: { x1: b[0], y1: b[1], x2: b[0], y2: b[1] + len }, style: lineStyle },
          ] };
        }
        const a = api.coord([0, v]);
        const b = api.coord([90, v]);
        return { type: "group", children: [
          { type: "line", shape: { x1: a[0], y1: a[1], x2: a[0] + len, y2: a[1] }, style: lineStyle },
          { type: "line", shape: { x1: b[0], y1: b[1], x2: b[0] - len, y2: b[1] }, style: lineStyle },
        ] };
      },
    });

    // colour bar
    const ci = grid.length;
    grid.push({ left: g.cl, top: g.ct, width: g.cw, height: g.ch, show: false });
    const cx = xAxis.length;
    const cy = yAxis.length;
    xAxis.push({ type: "value", gridIndex: ci, min: 0, max: 1, show: false });
    yAxis.push({
      type: "value", gridIndex: ci, min: 0, max: 40, position: "right", splitLine: { show: false }, axisLine: { show: false }, axisTick: { show: false },
      axisLabel: { customValues: cbTicks, align: "right", margin: 54, fontFamily: FONT, fontSize: 16.4, color: "#222", formatter: (v: number) => v.toFixed(1) },
    });
    series.push({
      type: "custom", xAxisIndex: cx, yAxisIndex: cy, silent: true, clip: false, data: cbLevels.map((v) => [v]),
      renderItem: (params: any, api: any) => {
        const i = params.dataIndex;
        const a = api.coord([0, cbLevels[i]]);
        const b = api.coord([1, i + 1 < cbLevels.length ? cbLevels[i + 1] : 40]);
        return { type: "rect", shape: { x: a[0], y: b[1], width: b[0] - a[0], height: a[1] - b[1] }, style: { fill: cbColors[i] } };
      },
    });

    title.push(
      { text: t.tag, left: t.tagX, top: t.y, padding: 0, textStyle: { fontFamily: FONT, fontSize: 19, fontWeight: "normal", color: "#555" } },
      { text: t.title, left: t.titleX, top: t.y, padding: 0, textStyle: { fontFamily: FONT, fontSize: 19.7, fontWeight: "normal", color: "#111" } },
      { text: "[%]", left: t.unitX, top: t.unitY, padding: 0, textStyle: { fontFamily: FONT, fontSize: 14.5, fontWeight: "normal", color: "#444" } },
    );
  });

  return { animation: false, backgroundColor: "#ffffff", title, grid, xAxis, yAxis, series, tooltip: { show: false } };
}

export default function App() {
  const ref = useRef<HTMLDivElement>(null);
  useEffect(() => {
    document.body.style.margin = "0";
    const chart = echarts.init(ref.current as HTMLDivElement, undefined, { renderer: "svg" });
    chart.setOption(buildOption() as any);
    return () => chart.dispose();
  }, []);
  return <div ref={ref} style={{ position: "absolute", left: 0, top: 0, width: 1149, height: 722 }} />;
}
